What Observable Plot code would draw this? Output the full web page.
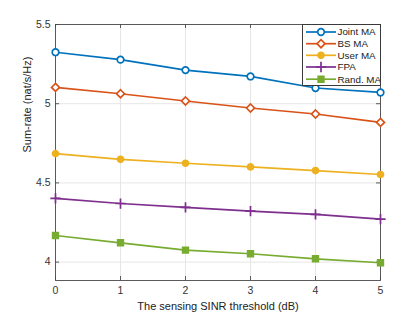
<!DOCTYPE html>
<html><head><meta charset="utf-8">
<script src="https://cdn.jsdelivr.net/npm/d3@7"></script>
<script src="https://cdn.jsdelivr.net/npm/@observablehq/plot@0.6"></script>
<style>
body{margin:0;background:#fff;font-family:"Liberation Sans",Arial,sans-serif;}
#wrap{position:relative;width:420px;height:315px;}
#legend{position:absolute;left:302px;top:24px;width:79px;height:62px;border:1px solid #3a3a3a;background:#fff;box-sizing:border-box;}
</style></head>
<body><div id="wrap"><div id="chart"></div><svg id="legend"></svg></div>
<script>
const thresholds = [0, 1, 2, 3, 4, 5];
const seriesNames = ["Joint MA", "BS MA", "User MA", "FPA", "Rand. MA"];
const jointMA = [5.325, 5.278, 5.212, 5.172, 5.099, 5.071];
const bsMA    = [5.103, 5.063, 5.017, 4.973, 4.935, 4.882];
const userMA  = [4.685, 4.649, 4.624, 4.601, 4.578, 4.553];
const fpa     = [4.402, 4.370, 4.345, 4.322, 4.301, 4.271];
const randMA  = [4.168, 4.122, 4.076, 4.053, 4.021, 3.996];
const yTicks = [4, 4.5, 5, 5.5];
const xTicks = [0, 1, 2, 3, 4, 5];
const xLabel = "The sensing SINR threshold (dB)";
const yLabel = "Sum-rate (nat/s/Hz)";

const colors = ["#0072BD", "#D95319", "#EDB120", "#7E2F8E", "#77AC30"];
const symbols = ["circle", "diamond2", "circle", "plus", "square"];
const fills = ["white", "white", "#EDB120", "none", "#77AC30"];
const radii = [3.3, 3.6, 3.0, 3.4, 3.2];

const allSeries = [jointMA, bsMA, userMA, fpa, randMA];
const data = allSeries.flatMap((vals, i) => vals.map((v, j) => ({x: thresholds[j], y: v, s: seriesNames[i], i})));

const W = 420, H = 315, mL = 55, mR = 40, mT = 24, mB = 35;
const tick = 4;
const innerW = W - mL - mR, innerH = H - mT - mB;
const axisColor = "#4a4a4a";

const marks = [
  Plot.gridX(xTicks, {stroke: "#e6e6e6", strokeOpacity: 1}),
  Plot.gridY(yTicks, {stroke: "#e6e6e6", strokeOpacity: 1}),
  Plot.frame({stroke: axisColor, strokeWidth: 0.9}),
  Plot.tickY(yTicks, {y: d => d, stroke: axisColor, strokeWidth: 0.9, insetRight: innerW - tick}),
  Plot.tickY(yTicks, {y: d => d, stroke: axisColor, strokeWidth: 0.9, insetLeft: innerW - tick}),
  Plot.tickX(xTicks, {x: d => d, stroke: axisColor, strokeWidth: 0.9, insetTop: innerH - tick}),
  Plot.tickX(xTicks, {x: d => d, stroke: axisColor, strokeWidth: 0.9, insetBottom: innerH - tick}),
  Plot.axisX(xTicks, {tickSize: 0, tickPadding: 6, fontSize: 10.5, color: "#333", label: null}),
  Plot.axisY(yTicks, {tickSize: 0, tickPadding: 5, fontSize: 10.5, color: "#333", tickFormat: d => String(d), label: null}),
  Plot.text([xLabel], {text: d => d, frameAnchor: "bottom", dy: 29, fontSize: 11, fill: "#222", fontWeight: "normal"}),
  Plot.text([yLabel], {text: d => d, frameAnchor: "left", dx: -28, rotate: -90, fontSize: 11, fill: "#222", fontWeight: "normal"}),
];
allSeries.forEach((vals, i) => {
  const d = data.filter(r => r.i === i);
  marks.push(Plot.line(d, {x: "x", y: "y", stroke: colors[i], strokeWidth: 1.7}));
  marks.push(Plot.dot(d, {x: "x", y: "y", symbol: () => symbols[i], r: radii[i], stroke: colors[i], fill: fills[i], strokeWidth: 1.7}));
});

const chart = Plot.plot({
  width: W, height: H,
  marginLeft: mL, marginRight: mR, marginTop: mT, marginBottom: mB,
  style: {fontFamily: "Liberation Sans, Arial, sans-serif", fontSize: "11px", color: "#333", background: "white", overflow: "visible"},
  x: {domain: [0, 5]},
  y: {domain: [3.884, 5.5]},
  symbol: {type: "identity"},
  marks
});
document.getElementById("chart").appendChild(chart);

// legend
const lg = d3.select("#legend");
const rowY = [7, 18.7, 30.3, 42, 54.2];
const symMap = {circle: d3.symbolCircle, diamond2: d3.symbolDiamond2, plus: d3.symbolPlus, square: d3.symbolSquare};
seriesNames.forEach((name, i) => {
  const y = rowY[i];
  lg.append("line").attr("x1", 3).attr("x2", 33).attr("y1", y).attr("y2", y).attr("stroke", colors[i]).attr("stroke-width", 1.7);
  lg.append("path").attr("transform", `translate(18,${y})`)
    .attr("d", d3.symbol(symMap[symbols[i]], Math.PI * radii[i] * radii[i])())
    .attr("stroke", colors[i]).attr("fill", fills[i]).attr("stroke-width", 1.7);
  lg.append("text").attr("x", 34.5).attr("y", y).attr("dy", "0.35em").attr("font-size", 9.8).attr("fill", "#222")
    .attr("font-family", "Liberation Sans, Arial, sans-serif").text(name);
});
</script></body></html>
